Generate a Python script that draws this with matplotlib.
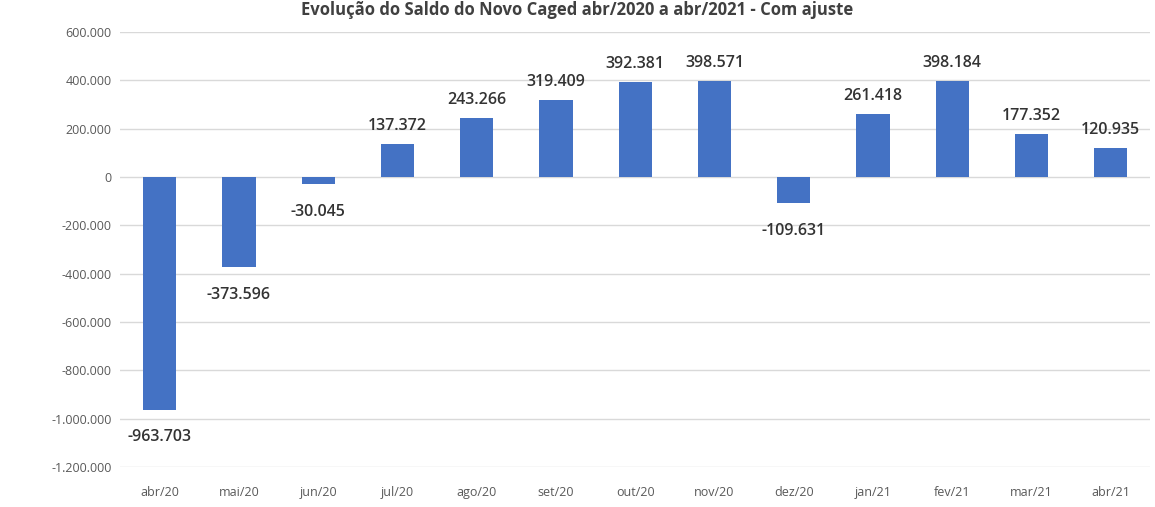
import matplotlib
matplotlib.use("Agg")
import matplotlib.pyplot as plt
from matplotlib.ticker import FuncFormatter

months = ["abr/20", "mai/20", "jun/20", "jul/20", "ago/20", "set/20", "out/20",
          "nov/20", "dez/20", "jan/21", "fev/21", "mar/21", "abr/21"]
saldo = [-963703, -373596, -30045, 137372, 243266, 319409, 392381,
         398571, -109631, 261418, 398184, 177352, 120935]
title = "Evolução do Saldo do Novo Caged abr/2020 a abr/2021 - Com ajuste"

plt.rcParams['font.family'] = ['Open Sans', 'DejaVu Sans']

fig = plt.figure(figsize=(11.55, 5.07), dpi=100)
ax = fig.add_axes([0.104, 0.079, 0.892, 0.858])

x = range(len(months))
ax.bar(x, saldo, width=0.42, color="#4472C4", zorder=3)

ax.set_ylim(-1200000, 600000)
ax.set_xlim(-0.5, len(months) - 0.5)
ax.set_yticks(range(-1200000, 600001, 200000))

def fmt(v, pos=None):
    s = f"{int(round(v)):,}".replace(",", ".")
    return s
ax.yaxis.set_major_formatter(FuncFormatter(fmt))
ax.set_xticks(list(x))
ax.set_xticklabels(months)

ax.grid(axis="y", color="#D9D9D9", linewidth=1, zorder=0)
for s in ax.spines.values():
    s.set_visible(False)
ax.tick_params(axis="both", length=0, colors="#595959", labelsize=9)
ax.tick_params(axis="x", pad=14)
ax.tick_params(axis="y", pad=6)

for i, v in enumerate(saldo):
    if v >= 0:
        ax.annotate(fmt(v), (i, v), xytext=(0, 7), textcoords="offset points",
                    ha="center", va="bottom", fontsize=11.5, fontweight="semibold",
                    color="#333333")
    else:
        ax.annotate(fmt(v), (i, v), xytext=(0, -14), textcoords="offset points",
                    ha="center", va="top", fontsize=11.5, fontweight="semibold",
                    color="#333333")

fig.text(0.5, 0.998, title, ha="center", va="top", fontsize=12,
         fontweight="bold", color="#404040")

fig.savefig("out.png", dpi=100)
